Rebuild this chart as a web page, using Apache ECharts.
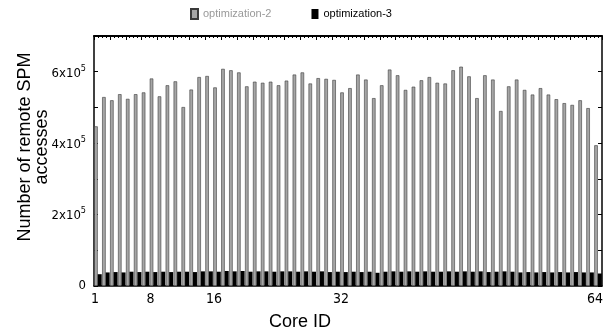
<!DOCTYPE html>
<html>
<head>
<meta charset="utf-8">
<script src="https://cdn.jsdelivr.net/npm/echarts@6/dist/echarts.min.js"></script>
<style>
  html, body { margin: 0; padding: 0; background: #fff; }
  #chart { width: 606px; height: 335px; }
</style>
</head>
<body>
<div id="chart"></div>
<script>
var cores = ['1','2','3','4','5','6','7','8','9','10','11','12','13','14','15','16',
    '17','18','19','20','21','22','23','24','25','26','27','28','29','30','31','32',
    '33','34','35','36','37','38','39','40','41','42','43','44','45','46','47','48',
    '49','50','51','52','53','54','55','56','57','58','59','60','61','62','63','64'];

var opt2 = [447000, 529000, 520000, 537000, 524000, 537000, 542000, 581000,
    531000, 562000, 573000, 501000, 550000, 585000, 588000, 556000,
    608000, 604000, 598000, 559000, 572000, 569000, 572000, 562000,
    575000, 592000, 598000, 567000, 582000, 580000, 577000, 542000,
    554000, 592000, 578000, 526000, 562000, 606000, 590000, 549000,
    558000, 576000, 585000, 569000, 567000, 604000, 614000, 587000,
    526000, 590000, 578000, 490000, 559000, 578000, 549000, 536000,
    554000, 536000, 523000, 512000, 507000, 520000, 498000, 394000];

var opt3 = [33000, 38000, 39000, 38000, 40000, 39000, 40000, 39000,
    40000, 39000, 40000, 40000, 39000, 41000, 41000, 40000,
    42000, 41000, 42000, 40000, 41000, 41000, 40000, 41000,
    41000, 40000, 41000, 40000, 41000, 39000, 40000, 39000,
    40000, 39000, 40000, 37000, 40000, 41000, 40000, 41000,
    40000, 41000, 40000, 40000, 41000, 40000, 41000, 40000,
    41000, 39000, 40000, 41000, 40000, 38000, 39000, 38000,
    39000, 38000, 39000, 38000, 39000, 38000, 38000, 35000];

var seriesNames = ['optimization-2', 'optimization-3'];
var xTickLabels = ['1', '8', '16', '32', '64'];
var yTickLabels = {0: '0', 200000: '2x10^5', 400000: '4x10^5', 600000: '6x10^5'};

var narrow = "'Liberation Sans Narrow', 'DejaVu Sans Condensed', sans-serif";
var sans = "'Liberation Sans', Arial, sans-serif";

var chart = echarts.init(document.getElementById('chart'));

var option = {
    animation: false,
    backgroundColor: '#fff',
    textStyle: { fontFamily: sans },
    legend: {
        left: 185,
        top: 3,
        itemWidth: 7,
        itemHeight: 10,
        itemGap: 40,
        icon: 'rect',
        data: [
            { name: seriesNames[0], textStyle: { color: '#999' } },
            { name: seriesNames[1], textStyle: { color: '#000' } }
        ],
        textStyle: { fontFamily: sans, fontSize: 11 }
    },
    grid: {
        left: 94,
        right: 4,
        top: 36,
        bottom: 49,
        outerBoundsMode: 'none'
    },
    xAxis: [{
        type: 'category',
        data: cores,
        boundaryGap: true,
        axisLine: { show: true, lineStyle: { color: '#000', width: 1.5 } },
        axisTick: { show: false },
        axisLabel: {
            interval: function (i, v) { return xTickLabels.indexOf(v) >= 0; },
            color: '#000',
            fontFamily: narrow,
            fontSize: 14,
            margin: 6,
            padding: [0, 6, 0, 0]
        },
        name: 'Core ID',
        nameLocation: 'middle',
        nameGap: 27,
        nameMoveOverlap: false,
        nameTextStyle: { color: '#000', fontSize: 18, fontFamily: sans, padding: [0, 96, 0, 0] }
    }, {
        type: 'value',
        position: 'top',
        min: 0,
        max: 64,
        interval: 2,
        axisLine: { show: true, onZero: false, lineStyle: { color: '#000', width: 2 } },
        axisTick: { show: true, inside: true, length: 4, lineStyle: { color: '#000' } },
        minorTick: { show: true, splitNumber: 4, length: 2, lineStyle: { color: '#000' } },
        axisLabel: { show: false },
        splitLine: { show: false }
    }],
    yAxis: [{
        type: 'value',
        min: 0,
        max: 700000,
        interval: 100000,
        axisLine: { show: true, lineStyle: { color: '#000', width: 1.5 } },
        axisTick: { show: true, inside: true, length: 4, lineStyle: { color: '#000' } },
        splitLine: { show: false },
        axisLabel: {
            color: '#000',
            margin: 8,
            formatter: function (v) {
                var t = yTickLabels[v];
                if (t === undefined) return '';
                if (t === '0') return '{b|0}';
                var p = t.split('^');
                return '{b|' + p[0] + '}{s|' + p[1] + '}';
            },
            rich: {
                b: { fontFamily: narrow, fontSize: 13, color: '#000', verticalAlign: 'bottom' },
                s: { fontFamily: narrow, fontSize: 9, color: '#000', verticalAlign: 'bottom', padding: [0, 0, 7, 0] }
            }
        },
        name: 'Number of remote SPM\naccesses',
        nameLocation: 'middle',
        nameGap: 43,
        nameMoveOverlap: false,
        nameTextStyle: { color: '#000', fontSize: 18, lineHeight: 17, fontFamily: sans, padding: [0, 0, 0, 28] }
    }, {
        type: 'value',
        position: 'right',
        min: 0,
        max: 700000,
        interval: 100000,
        axisLine: { show: true, lineStyle: { color: '#000', width: 1.5 } },
        axisTick: { show: true, inside: true, length: 4, lineStyle: { color: '#000' } },
        axisLabel: { show: false },
        splitLine: { show: false }
    }],
    series: [{
        name: seriesNames[0],
        type: 'bar',
        data: opt2,
        barWidth: 3.5,
        barGap: '0%',
        itemStyle: { color: '#a6a6a6', borderColor: '#3a3a3a', borderWidth: 0.6 }
    }, {
        name: seriesNames[1],
        type: 'bar',
        data: opt3,
        barWidth: 4,
        barGap: '0%',
        itemStyle: { color: '#000' }
    }]
};

chart.setOption(option);
</script>
</body>
</html>
